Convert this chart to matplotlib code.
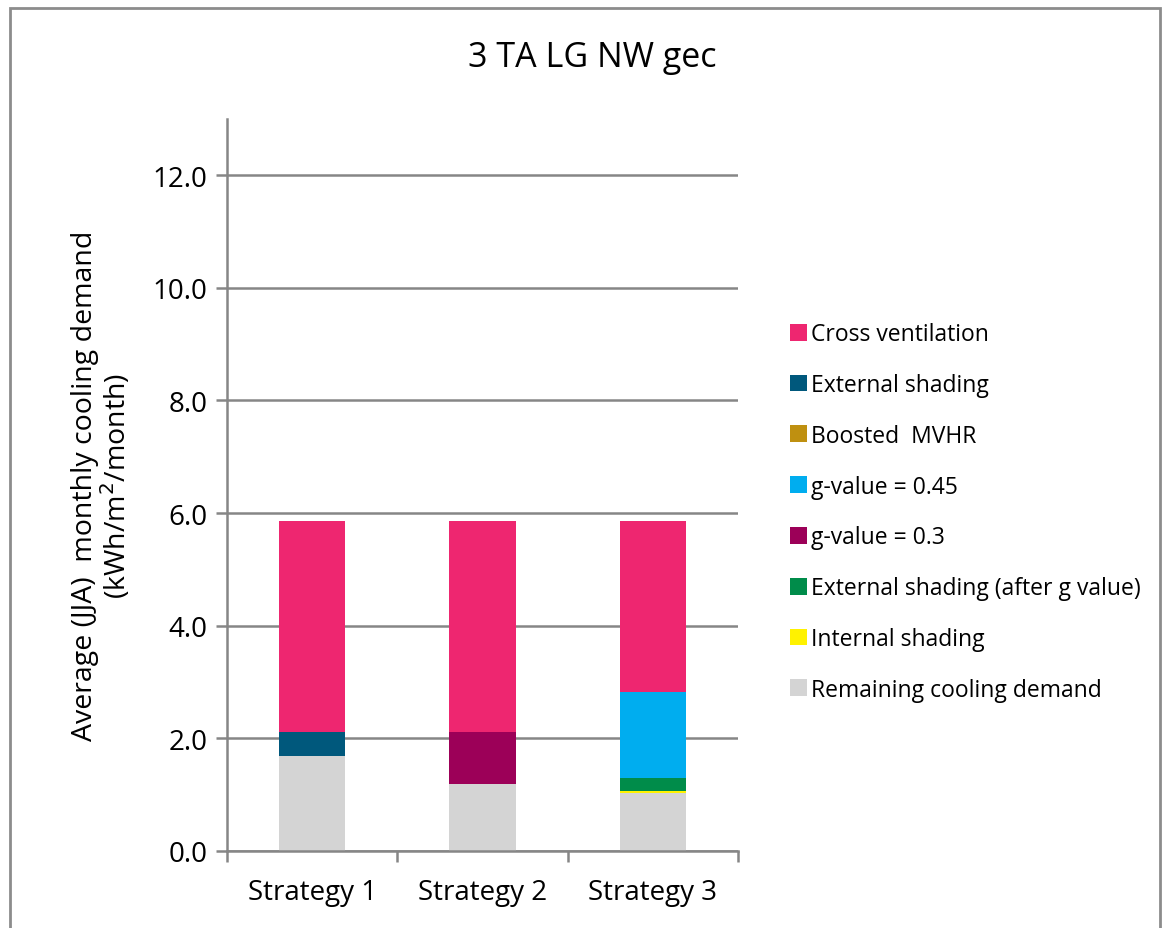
import numpy as np
import matplotlib.pyplot as plt
from matplotlib.patches import Rectangle

plt.rcParams['font.family'] = ['Open Sans', 'DejaVu Sans']

strategies = ['Strategy 1', 'Strategy 2', 'Strategy 3']

# stacked from the bottom up (kWh/m2/month)
remaining = [1.68, 1.19, 1.02]
internal_shading = [0.0, 0.0, 0.035]
ext_shading_after_g = [0.0, 0.0, 0.245]
g_030 = [0.0, 0.92, 0.0]
g_045 = [0.0, 0.0, 1.52]
boosted_mvhr = [0.0, 0.0, 0.0]
ext_shading = [0.43, 0.0, 0.0]
cross_vent = [3.74, 3.74, 3.03]

series = [
    ('Remaining cooling demand', remaining, '#D4D4D4'),
    ('Internal shading', internal_shading, '#FFF200'),
    ('External shading (after g value)', ext_shading_after_g, '#008C4A'),
    ('g-value = 0.3', g_030, '#9C0058'),
    ('g-value = 0.45', g_045, '#00ADEF'),
    ('Boosted  MVHR', boosted_mvhr, '#BF9010'),
    ('External shading', ext_shading, '#00587C'),
    ('Cross ventilation', cross_vent, '#EE2670'),
]

fig = plt.figure(figsize=(11.62, 9.29), dpi=100)
ax = fig.add_axes([0.1954, 0.0832, 0.4397, 0.7876])

x = np.arange(len(strategies))
bottom = np.zeros(len(strategies))
handles = []
for name, vals, col in series:
    vals = np.array(vals)
    b = ax.bar(x, vals, width=0.39, bottom=bottom, color=col, label=name, zorder=3)
    handles.append(b)
    bottom += vals

grid_c = '#868686'
ax.set_ylim(0, 13)
ax.set_xlim(-0.5, 2.5)
ax.set_yticks(np.arange(0, 13, 2.0))
ax.set_yticklabels([f'{v:.1f}' for v in np.arange(0, 13, 2.0)], fontsize=20)
ax.yaxis.grid(True, color=grid_c, linewidth=1.8, zorder=0)
ax.set_xticks(x)
ax.set_xticklabels(strategies, fontsize=20)
ax.tick_params(axis='x', length=0, pad=20)
ax.set_xticks([-0.5, 0.5, 1.5, 2.5], minor=True)
ax.tick_params(axis='x', which='minor', length=8, width=1.8, color=grid_c)
ax.tick_params(axis='y', length=8, width=1.8, color=grid_c, pad=6)
for s in ['top', 'right']:
    ax.spines[s].set_visible(False)
for s in ['left', 'bottom']:
    ax.spines[s].set_color(grid_c)
    ax.spines[s].set_linewidth(1.8)
    ax.spines[s].set_zorder(4)

ax.set_ylabel('Average (JJA)  monthly cooling demand\n(kWh/m$^2$/month)',
              fontsize=20.5, labelpad=14, linespacing=1.0)

fig.text(0.51, 1 - 58 / 929, '3 TA LG NW gec', fontsize=24.5,
         ha='center', va='center')

leg = fig.legend(handles[::-1], [s[0] for s in series][::-1],
                 loc='upper left', bbox_to_anchor=(0.672, 0.662),
                 frameon=False, fontsize=16.5, handlelength=0.75,
                 handleheight=0.75, handletextpad=0.15, labelspacing=1.17,
                 borderaxespad=0)

# outer chart border
fig.patches.append(Rectangle((10 / 1162, -0.01), 1150 / 1162, 1 - 9 / 929 + 0.01,
                             transform=fig.transFigure, fill=False,
                             edgecolor='#8C8C8C', linewidth=2.0))

fig.savefig('out.png', dpi=100)
